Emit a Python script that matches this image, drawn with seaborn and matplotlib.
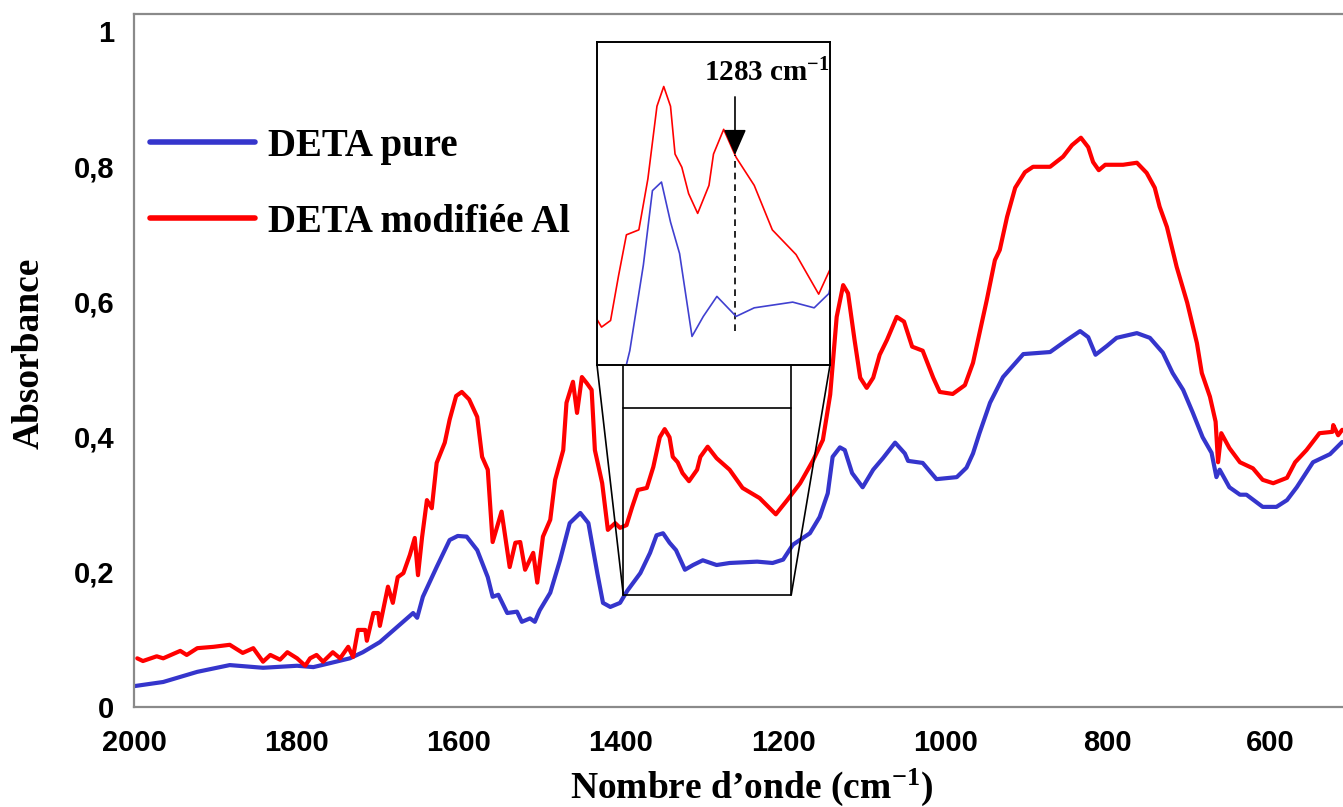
import matplotlib
matplotlib.use("Agg")
import numpy as np
import matplotlib.pyplot as plt
import seaborn as sns

# ---------------- data ----------------
wn_pure = [1999, 1964, 1922, 1882, 1841, 1799, 1779, 1758, 1734, 1718,
           1697, 1676, 1656, 1651, 1644, 1627, 1611, 1601, 1590, 1577,
           1564, 1558, 1551, 1540, 1528, 1522, 1512, 1506, 1500, 1487,
           1475, 1463, 1450, 1440, 1429, 1422, 1413, 1401, 1392, 1376,
           1364, 1356, 1348, 1340, 1332, 1321, 1311, 1299, 1282, 1266,
           1232, 1213, 1200, 1188, 1167, 1155, 1145, 1139, 1130, 1124,
           1115, 1102, 1089, 1077, 1062, 1050, 1046, 1028, 1011, 986,
           974, 966, 958, 945, 929, 904, 871, 850, 834, 824,
           815, 801, 789, 764, 748, 732, 720, 707, 695, 683,
           672, 666, 662, 650, 637, 629, 609, 592, 579, 567,
           547, 526, 511]
abs_pure = [0.031, 0.037, 0.052, 0.062, 0.058, 0.061, 0.059, 0.065, 0.072, 0.081,
            0.096, 0.118, 0.139, 0.132, 0.163, 0.207, 0.247, 0.253, 0.252, 0.232,
            0.192, 0.163, 0.166, 0.139, 0.141, 0.126, 0.131, 0.126, 0.143, 0.169,
            0.217, 0.272, 0.287, 0.272, 0.198, 0.154, 0.148, 0.154, 0.172, 0.198,
            0.228, 0.254, 0.257, 0.243, 0.232, 0.203, 0.210, 0.217, 0.210, 0.213,
            0.215, 0.213, 0.218, 0.240, 0.257, 0.281, 0.316, 0.370, 0.384, 0.380,
            0.346, 0.325, 0.351, 0.368, 0.391, 0.375, 0.364, 0.361, 0.337, 0.340,
            0.354, 0.375, 0.405, 0.450, 0.488, 0.522, 0.525, 0.543, 0.556, 0.547,
            0.521, 0.534, 0.546, 0.553, 0.546, 0.524, 0.494, 0.469, 0.435, 0.399,
            0.376, 0.340, 0.351, 0.325, 0.314, 0.314, 0.296, 0.296, 0.306, 0.325,
            0.362, 0.374, 0.392]

wn_al = [1996, 1989, 1972, 1964, 1943, 1935, 1922, 1902, 1882, 1866,
         1853, 1841, 1832, 1820, 1811, 1799, 1789, 1783, 1775, 1767,
         1755, 1746, 1736, 1730, 1724, 1715, 1713, 1705, 1699, 1697,
         1687, 1681, 1675, 1668, 1660, 1654, 1650, 1645, 1639, 1633,
         1627, 1617, 1611, 1603, 1596, 1587, 1577, 1571, 1564, 1558,
         1547, 1537, 1530, 1524, 1518, 1508, 1503, 1496, 1487, 1481,
         1471, 1467, 1459, 1454, 1448, 1442, 1436, 1432, 1423, 1416,
         1407, 1401, 1393, 1386, 1379, 1368, 1360, 1352, 1346, 1340,
         1336, 1330, 1324, 1316, 1306, 1302, 1293, 1282, 1266, 1250,
         1229, 1209, 1195, 1179, 1163, 1151, 1142, 1134, 1126, 1120,
         1112, 1105, 1097, 1089, 1081, 1072, 1060, 1051, 1041, 1028,
         1015, 1007, 991, 976, 966, 949, 939, 933, 924, 914,
         902, 892, 871, 855, 844, 833, 824, 818, 811, 803,
         781, 764, 752, 742, 736, 727, 715, 702, 690, 684,
         674, 667, 664, 660, 650, 637, 621, 609, 596, 579,
         569, 555, 539, 523, 522, 516, 511]
abs_al = [0.072, 0.068, 0.075, 0.072, 0.083, 0.077, 0.087, 0.089, 0.092, 0.080,
          0.087, 0.067, 0.077, 0.070, 0.081, 0.072, 0.061, 0.072, 0.077, 0.067,
          0.081, 0.072, 0.089, 0.074, 0.114, 0.114, 0.098, 0.139, 0.139, 0.120,
          0.178, 0.154, 0.192, 0.198, 0.225, 0.250, 0.195, 0.251, 0.306, 0.294,
          0.361, 0.391, 0.425, 0.460, 0.466, 0.455, 0.429, 0.370, 0.351, 0.244,
          0.289, 0.207, 0.243, 0.244, 0.203, 0.228, 0.184, 0.252, 0.277, 0.336,
          0.380, 0.450, 0.481, 0.435, 0.488, 0.479, 0.469, 0.380, 0.331, 0.262,
          0.272, 0.265, 0.269, 0.296, 0.321, 0.324, 0.355, 0.399, 0.411, 0.399,
          0.370, 0.362, 0.346, 0.334, 0.351, 0.370, 0.385, 0.368, 0.351, 0.324,
          0.309, 0.285, 0.306, 0.331, 0.365, 0.395, 0.462, 0.577, 0.624, 0.612,
          0.543, 0.487, 0.472, 0.487, 0.521, 0.543, 0.577, 0.570, 0.533, 0.527,
          0.487, 0.466, 0.463, 0.476, 0.509, 0.602, 0.661, 0.676, 0.725, 0.768,
          0.791, 0.799, 0.799, 0.814, 0.831, 0.842, 0.828, 0.806, 0.794, 0.802,
          0.802, 0.805, 0.790, 0.768, 0.740, 0.710, 0.651, 0.598, 0.538, 0.494,
          0.459, 0.422, 0.362, 0.405, 0.383, 0.362, 0.353, 0.336, 0.331, 0.339,
          0.362, 0.380, 0.405, 0.407, 0.417, 0.402, 0.410]

series_labels = ["DETA pure", "DETA modifiée Al"]
x_ticks = [2000, 1800, 1600, 1400, 1200, 1000, 800, 600]
y_ticks = [0, 0.2, 0.4, 0.6, 0.8, 1.0]
y_tick_labels = ["0", "0,2", "0,4", "0,6", "0,8", "1"]

# zoomed region and marked band
zoom_wn = (1397, 1190)
zoom_abs = (0.166, 0.442)
peak_wn = 1283

BLUE = "#3535cc"
RED = "#ff0000"

sns.set_style("white")
plt.rcParams["font.family"] = ["Liberation Serif", "DejaVu Serif"]
plt.rcParams["text.color"] = "black"
plt.rcParams["axes.labelcolor"] = "black"
plt.rcParams["xtick.color"] = "#808080"
plt.rcParams["ytick.color"] = "#808080"
plt.rcParams["xtick.labelcolor"] = "black"
plt.rcParams["ytick.labelcolor"] = "black"
plt.rcParams["mathtext.fontset"] = "custom"
plt.rcParams["mathtext.rm"] = "Liberation Serif:bold"
plt.rcParams["mathtext.bf"] = "Liberation Serif:bold"
plt.rcParams["mathtext.it"] = "Liberation Serif:bold"

W, H = 1343, 807
fig = plt.figure(figsize=(W / 100, H / 100), dpi=100)
ax = fig.add_axes([134 / W, 100 / H, 1 - 134 / W, 693 / H])

sns.lineplot(x=wn_pure, y=abs_pure, color=BLUE, lw=3, label=series_labels[0],
             estimator=None, sort=False, ax=ax)
sns.lineplot(x=wn_al, y=abs_al, color=RED, lw=3, label=series_labels[1],
             estimator=None, sort=False, ax=ax)

ax.set_xlim(2000, 510)
ax.set_ylim(0, 1.025)
tick_font = dict(family="Liberation Sans", weight="bold", size=21, color="black")
ax.set_xticks(x_ticks)
ax.set_xticklabels([str(t) for t in x_ticks], fontdict=tick_font)
ax.set_yticks(y_ticks)
ax.set_yticklabels(y_tick_labels, fontdict=tick_font)
ax.tick_params(axis="x", direction="out", length=9, width=1.6, pad=7)
ax.tick_params(axis="y", direction="out", length=8, width=1.6, pad=6)

for side in ["left", "bottom", "top"]:
    ax.spines[side].set_color("#8a8a8a")
    ax.spines[side].set_linewidth(1.6)
ax.spines["right"].set_visible(False)

ax.set_xlabel("Nombre d\u2019onde (cm$^{-1}$)", fontsize=27, fontweight="bold")
ax.set_ylabel("Absorbance", fontsize=27, fontweight="bold")
ax.xaxis.set_label_coords(0.511, -0.086)
ax.yaxis.set_label_coords(-0.072, 0.51)

leg = ax.legend(loc="upper left", bbox_to_anchor=(0.013, 0.836), frameon=False,
                prop=dict(family="Liberation Serif", weight="bold", size=28),
                handlelength=2.7, handletextpad=0.33, labelspacing=1.0,
                borderaxespad=0, borderpad=0)
for h in leg.get_lines():
    h.set_linewidth(4)

# ---------------- inset ----------------
ix0, iy0, iw, ih = 597 / W, (H - 365) / H, 233 / W, 323 / H
ax_in = fig.add_axes([ix0, iy0, iw, ih])
ax_in2 = ax_in.twinx()
sns.lineplot(x=wn_al, y=abs_al, color=RED, lw=1.2, estimator=None, sort=False,
             ax=ax_in, legend=False)
sns.lineplot(x=wn_pure, y=abs_pure, color="#4040d0", lw=1.2, estimator=None,
             sort=False, ax=ax_in2, legend=False)
ax_in.set_xlim(1405, 1199)
ax_in.set_ylim(0.242, 0.438)
ax_in2.set_ylim(0.193, 0.306)
for a in (ax_in, ax_in2):
    a.set_xticks([])
    a.set_yticks([])
    a.set_xlabel("")
    a.set_ylabel("")
    for s in a.spines.values():
        s.set_color("black")
        s.set_linewidth(1.2)

ax_in.axvline(peak_wn, ymin=0.105, ymax=0.65, color="black", lw=1.2,
              ls=(0, (4, 3)))
ax_in.annotate("", xy=(peak_wn, 0.65), xycoords=("data", "axes fraction"),
               xytext=(peak_wn, 0.83), textcoords=("data", "axes fraction"),
               arrowprops=dict(arrowstyle="-|>,head_length=0.8,head_width=0.35",
                               color="black", lw=1.2, mutation_scale=20,
                               shrinkA=0, shrinkB=0))
ax_in.text(0.73, 0.905, f"{peak_wn} cm$^{{-1}}$", transform=ax_in.transAxes,
           ha="center", va="center", fontsize=21, fontweight="bold")

# ---------------- zoom frame and connectors ----------------
to_data = ax.transData.inverted()
bl = to_data.transform(fig.transFigure.transform((ix0, iy0)))
br = to_data.transform(fig.transFigure.transform((ix0 + iw, iy0)))
frame_kw = dict(color="black", lw=1.2, clip_on=False, zorder=5)
ax.plot([zoom_wn[0], zoom_wn[1]], [zoom_abs[0], zoom_abs[0]], **frame_kw)
ax.plot([zoom_wn[0], zoom_wn[1]], [zoom_abs[1], zoom_abs[1]], **frame_kw)
ax.plot([zoom_wn[0], zoom_wn[0]], [bl[1], zoom_abs[0]], **frame_kw)
ax.plot([zoom_wn[1], zoom_wn[1]], [br[1], zoom_abs[0]], **frame_kw)
ax.plot([bl[0], zoom_wn[0]], [bl[1], zoom_abs[0]], **frame_kw)
ax.plot([br[0], zoom_wn[1]], [br[1], zoom_abs[0]], **frame_kw)

fig.savefig("out.png", dpi=100)
